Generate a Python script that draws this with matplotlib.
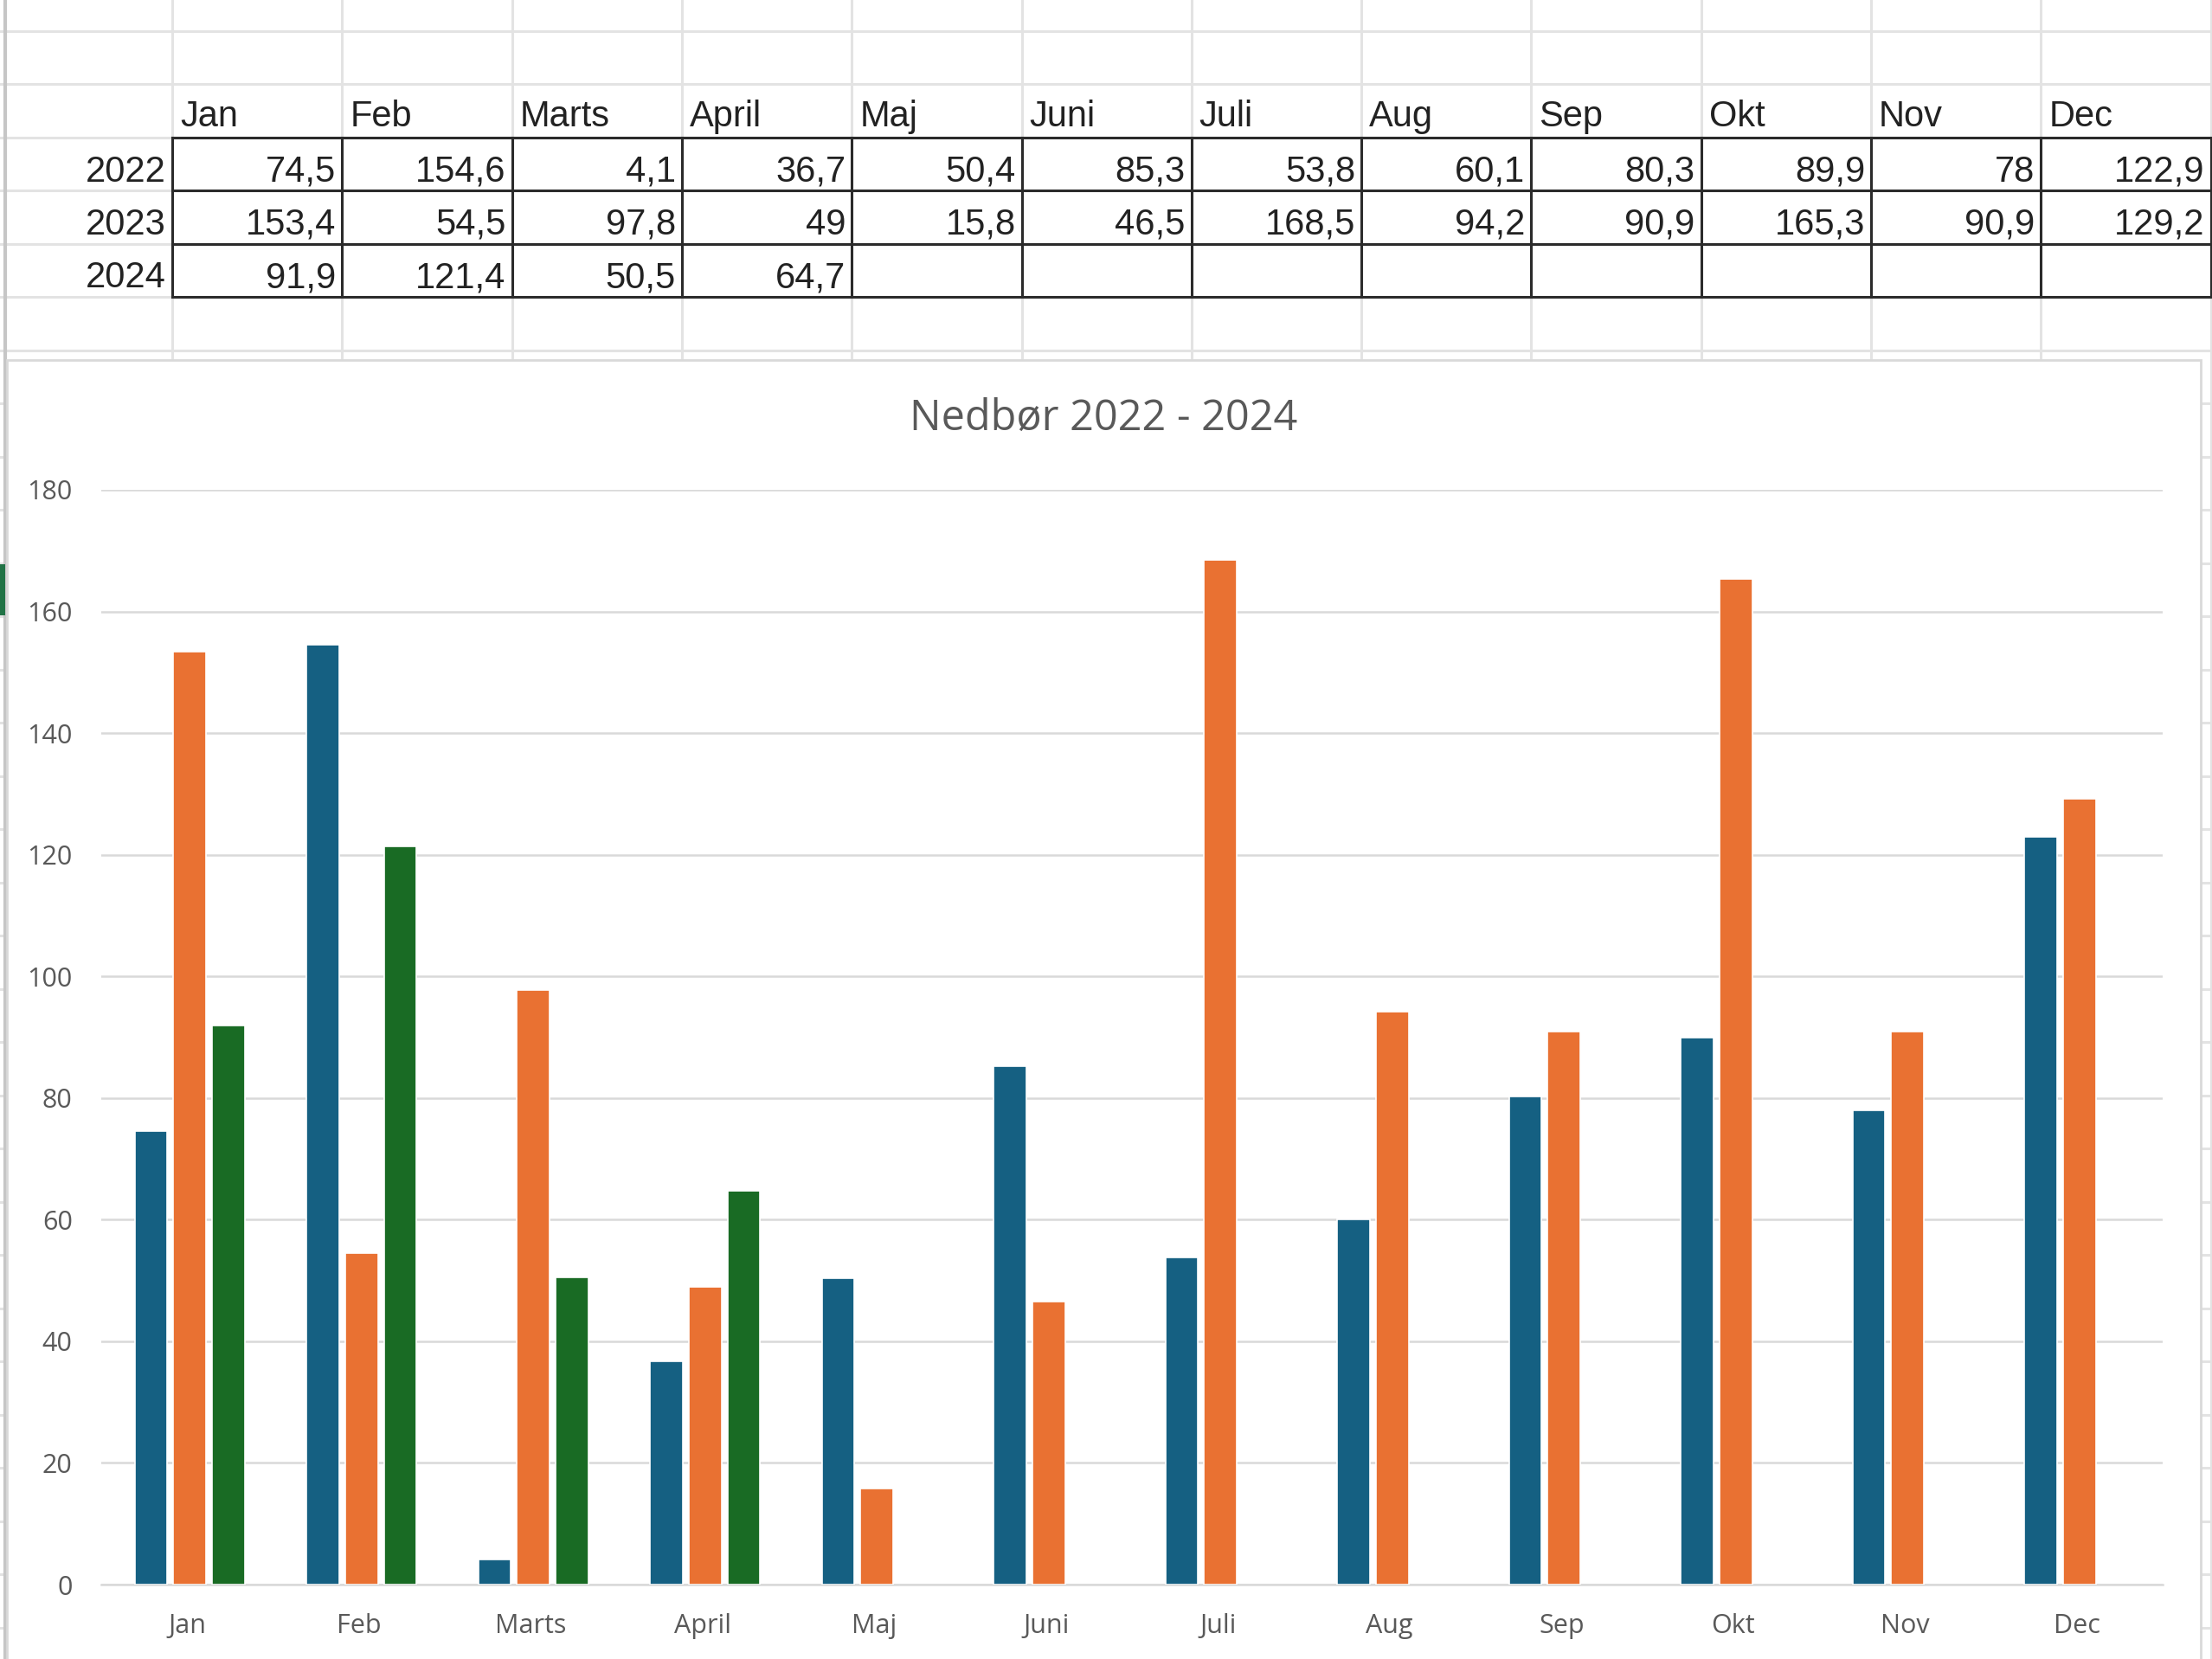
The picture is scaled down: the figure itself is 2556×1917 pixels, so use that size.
import matplotlib
matplotlib.use("Agg")
import matplotlib.pyplot as plt
import numpy as np
from matplotlib.patches import Rectangle

months = ["Jan", "Feb", "Marts", "April", "Maj", "Juni", "Juli", "Aug", "Sep", "Okt", "Nov", "Dec"]
years = ["2022", "2023", "2024"]
rain_2022 = [74.5, 154.6, 4.1, 36.7, 50.4, 85.3, 53.8, 60.1, 80.3, 89.9, 78, 122.9]
rain_2023 = [153.4, 54.5, 97.8, 49, 15.8, 46.5, 168.5, 94.2, 90.9, 165.3, 90.9, 129.2]
rain_2024 = [91.9, 121.4, 50.5, 64.7, None, None, None, None, None, None, None, None]
colors = ["#156082", "#E97132", "#196B24"]

W, H = 2556, 1917
CELL_FONT = ["Liberation Sans Narrow", "Liberation Sans", "DejaVu Sans"]
CHART_FONT = ["Open Sans", "DejaVu Sans"]


def fmt(v):
    if v is None:
        return ""
    return f"{v:g}".replace(".", ",")


fig = plt.figure(figsize=(W / 100, H / 100), dpi=100)

# spreadsheet background, drawn in pixel coordinates
sheet = fig.add_axes([0, 0, 1, 1])
sheet.set_xlim(0, W)
sheet.set_ylim(H, 0)
sheet.axis("off")

col_x = [199 + 196.3 * j for j in range(13)]
row_y = [36 + 61.5 * i for i in range(32)]

for y in row_y:
    sheet.plot([0, W], [y, y], color="#E3E3E3", lw=2.2, zorder=1)
for x in col_x:
    sheet.plot([x, x], [0, H], color="#E3E3E3", lw=2.2, zorder=1)
sheet.plot([6, 6], [0, H], color="#C6C6C6", lw=3, zorder=1)

# table borders
t_top, t_bot = row_y[2], row_y[5]
for y in row_y[2:6]:
    sheet.plot([col_x[0], col_x[-1]], [y, y], color="#2B2B2B", lw=2.2, zorder=2)
for x in col_x:
    sheet.plot([x, x], [t_top, t_bot], color="#2B2B2B", lw=2.2, zorder=2)

# header row
for j, m in enumerate(months):
    sheet.text(col_x[j] + 9, row_y[2] - 13, m, family=CELL_FONT, fontsize=30,
               color="#222222", ha="left", va="baseline", zorder=3)

table_rows = [rain_2022, rain_2023, rain_2024]
for i, (yr, vals) in enumerate(zip(years, table_rows)):
    base = row_y[3 + i] - 11
    sheet.text(col_x[0] - 7, base, yr, family=CELL_FONT, fontsize=30,
               color="#222222", ha="right", va="baseline", zorder=3)
    for j, v in enumerate(vals):
        sheet.text(col_x[j + 1] - 7, base, fmt(v), family=CELL_FONT, fontsize=30,
                   color="#222222", ha="right", va="baseline", zorder=3)

# chart area
sheet.add_patch(Rectangle((8, 416), 2535, 1600, facecolor="white",
                          edgecolor="#D9D9D9", lw=2, zorder=4))
sheet.add_patch(Rectangle((0, 652), 6, 59, facecolor="#217346", edgecolor="none", zorder=5))

fig.text(1275 / W, 1 - 484 / H, "Nedbør 2022 - 2024", family=CHART_FONT, fontsize=35,
         color="#595959", ha="center", va="center", zorder=6)

ax = fig.add_axes([117 / W, 86 / H, (2499 - 117) / W, (1831 - 566) / H])
ax.set_zorder(5)
ax.patch.set_alpha(0)

x = np.arange(len(months))
step = 0.225
bw = 0.19
for k, series in enumerate(table_rows):
    vals = np.array([np.nan if v is None else v for v in series], dtype=float)
    ax.bar(x + 0.015 + (k - 1) * step, vals, width=bw, color=colors[k], edgecolor="white",
           linewidth=1.2, zorder=3, label=years[k])

ax.set_xlim(-0.5, len(months) - 0.5)
ax.set_ylim(0, 180)
ax.set_yticks(np.arange(0, 181, 20))
ax.set_xticks(x)
ax.set_xticklabels(months)
ax.yaxis.grid(True, color="#D9D9D9", lw=1.8, zorder=0)
ax.set_axisbelow(True)
for s in ["top", "right", "left"]:
    ax.spines[s].set_visible(False)
ax.spines["bottom"].set_color("#D9D9D9")
ax.spines["bottom"].set_linewidth(1.8)
ax.tick_params(axis="both", length=0, labelsize=22, labelcolor="#595959")
ax.tick_params(axis="y", pad=24)
ax.tick_params(axis="x", pad=24)
for lab in ax.get_xticklabels() + ax.get_yticklabels():
    lab.set_family(CHART_FONT)

fig.savefig("out.png", dpi=100)
